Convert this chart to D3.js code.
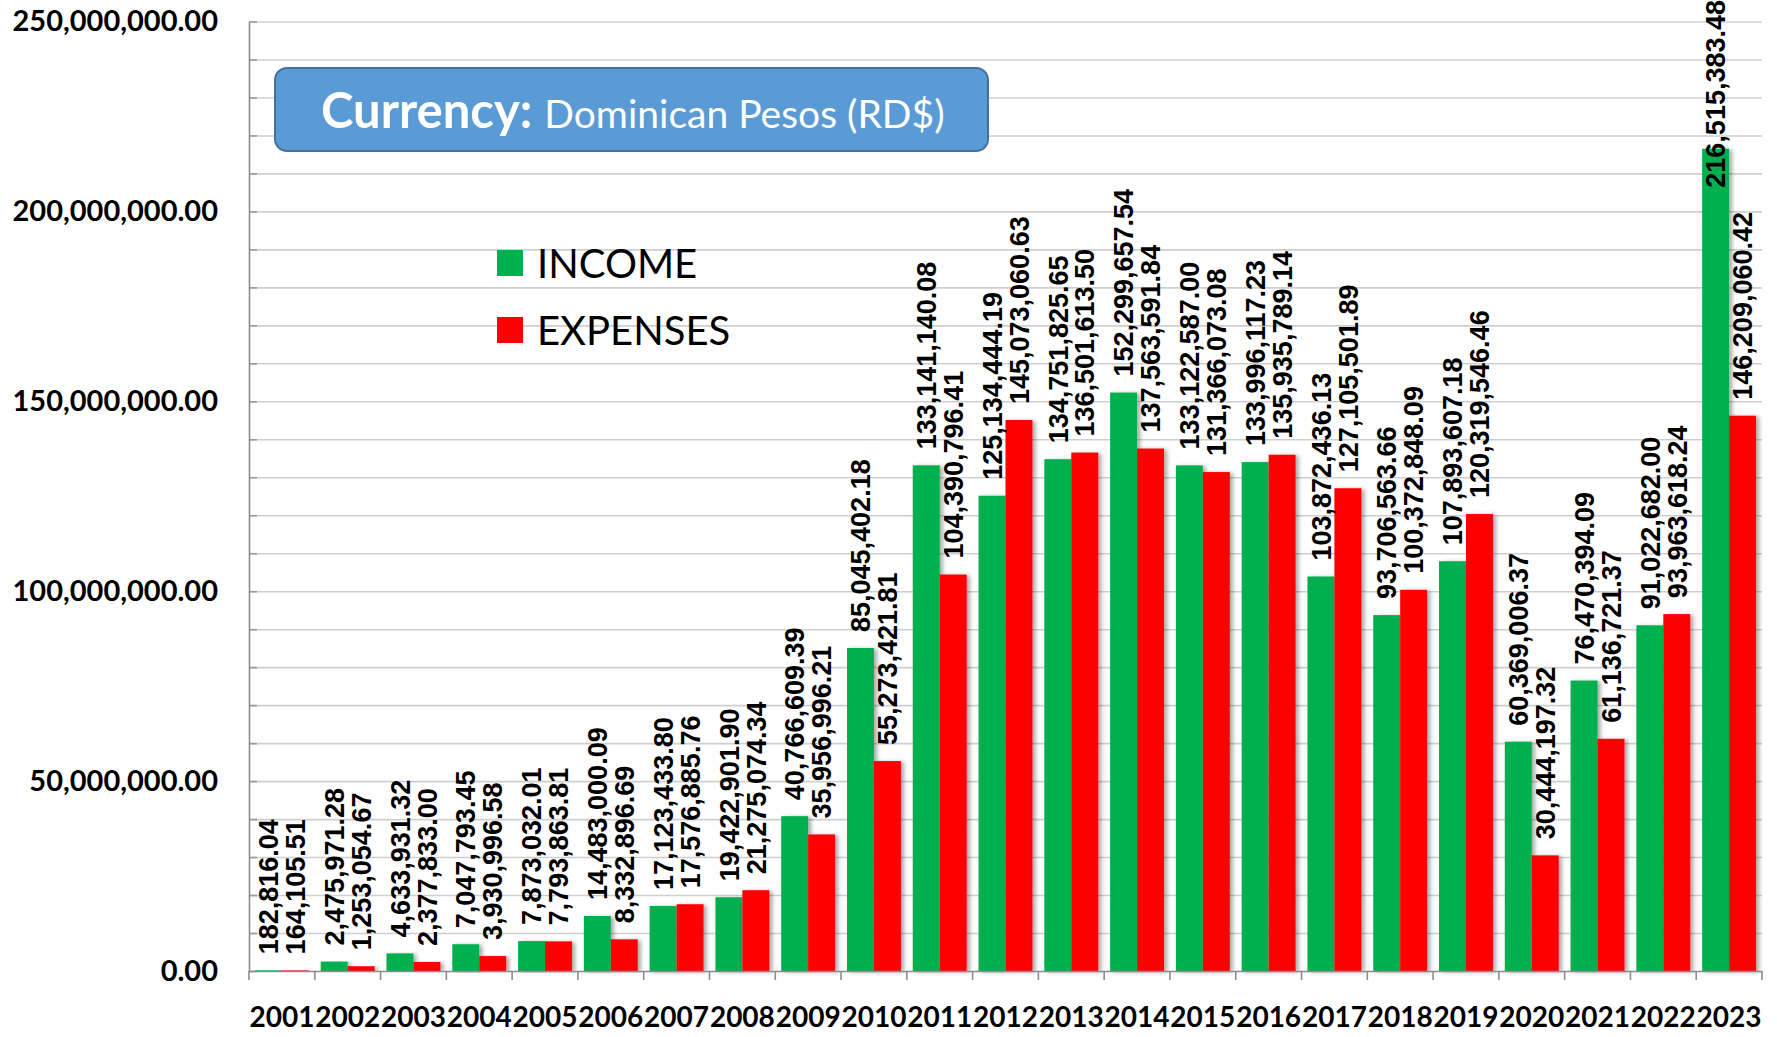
<!DOCTYPE html>
<html>
<head>
<meta charset="utf-8">
<script src="https://cdn.jsdelivr.net/npm/d3@7"></script>
<style>
  body { margin: 0; background: #fff; }
  svg { display: block; }
  .ylab text { font-family: Lato, sans-serif; font-weight: 700; font-size: 29px; fill: #000; }
  .xlab text { font-family: Lato, sans-serif; font-weight: 700; font-size: 28px; fill: #000; }
  .vlabel { font-family: "Liberation Sans", Arial, sans-serif; font-weight: 700; font-size: 27px; fill: #000; }
</style>
</head>
<body>
<div id="chart"></div>
<script>
// values (RD$)
const years = ['2001','2002','2003','2004','2005','2006','2007','2008','2009','2010','2011','2012',
               '2013','2014','2015','2016','2017','2018','2019','2020','2021','2022','2023'];
const income = [182816.04, 2475971.28, 4633931.32, 7047793.45, 7873032.01, 14483000.09, 17123433.80,
                19422901.90, 40766609.39, 85045402.18, 133141140.08, 125134444.19, 134751825.65,
                152299657.54, 133122587.00, 133996117.23, 103872436.13, 93706563.66, 107893607.18,
                60369006.37, 76470394.09, 91022682.00, 216515383.48];
const expenses = [164105.51, 1253054.67, 2377833.00, 3930996.58, 7793863.81, 8332896.69, 17576885.76,
                  21275074.34, 35956996.21, 55273421.81, 104390796.41, 145073060.63, 136501613.50,
                  137563591.84, 131366073.08, 135935789.14, 127105501.89, 100372848.09, 120319546.46,
                  30444197.32, 61136721.37, 93963618.24, 146209060.42];
const seriesNames = ['INCOME', 'EXPENSES'];
const seriesColors = ['#00B050', '#FF0000'];
const yMax = 250000000;
const gridStep = 10000000;
const labelStep = 50000000;

const width = 1777;
const height = 1037;
const margin = { top: 21.5, right: 15, bottom: 66, left: 249 };

const svg = d3.select('#chart').append('svg')
  .attr('width', width)
  .attr('height', height);

// soft shadow like the excel bars
const defs = svg.append('defs');
const f = defs.append('filter').attr('id', 'shadow')
  .attr('x', '-30%').attr('y', '-5%').attr('width', '160%').attr('height', '110%');
f.append('feDropShadow')
  .attr('dx', 3).attr('dy', 1).attr('stdDeviation', 2)
  .attr('flood-color', '#000').attr('flood-opacity', 0.35);

const x = d3.scaleBand()
  .domain(years)
  .range([margin.left, width - margin.right]);

const x1 = d3.scaleBand()
  .domain(seriesNames)
  .range([0, x.bandwidth()])
  .paddingOuter(0.22);

const y = d3.scaleLinear()
  .domain([0, yMax])
  .range([height - margin.bottom, margin.top]);

// gridlines
svg.append('g')
  .attr('transform', `translate(${margin.left},0)`)
  .call(d3.axisRight(y)
    .tickValues(d3.range(gridStep, yMax + 1, gridStep))
    .tickSize(width - margin.left - margin.right)
    .tickFormat(''))
  .call(g => g.select('.domain').remove())
  .call(g => g.selectAll('line').attr('stroke', '#CFCFCF').attr('stroke-width', 1.6));

// inner tick marks on the y axis
svg.append('g')
  .attr('transform', `translate(${margin.left},0)`)
  .call(d3.axisRight(y)
    .tickValues(d3.range(0, yMax + 1, gridStep))
    .tickSize(8)
    .tickFormat(''))
  .call(g => g.select('.domain').remove())
  .call(g => g.selectAll('line').attr('stroke', '#9A9A9A').attr('stroke-width', 1.6));

// y labels
svg.append('g')
  .attr('class', 'ylab')
  .attr('transform', `translate(${margin.left},0)`)
  .call(d3.axisLeft(y)
    .tickValues(d3.range(0, yMax + 1, labelStep))
    .tickSize(0)
    .tickPadding(31)
    .tickFormat(d3.format(',.2f')))
  .call(g => g.select('.domain').attr('stroke', '#8C8C8C').attr('stroke-width', 1.6));

// bars
const data = years.map((yr, i) => ({ year: yr, values: [income[i], expenses[i]] }));

const groups = svg.append('g')
  .selectAll('g')
  .data(data)
  .join('g')
  .attr('transform', d => `translate(${x(d.year)},0)`);

groups.selectAll('rect')
  .data(d => d.values.map((v, j) => ({ key: seriesNames[j], value: v, color: seriesColors[j] })))
  .join('rect')
  .attr('x', d => x1(d.key))
  .attr('width', x1.bandwidth())
  .attr('y', d => y(d.value))
  .attr('height', d => y(0) - y(d.value))
  .attr('fill', d => d.color)
  .attr('filter', 'url(#shadow)');

// x axis
svg.append('g')
  .attr('class', 'xlab')
  .attr('transform', `translate(0,${height - margin.bottom})`)
  .call(d3.axisBottom(x).tickSize(0).tickPadding(46))
  .call(g => g.select('.domain').attr('stroke', '#8C8C8C').attr('stroke-width', 1.6))
  .call(g => g.selectAll('text').attr('dy', '0.35em'));

// category separators below the axis
svg.append('g')
  .selectAll('line')
  .data(years.concat(['end']))
  .join('line')
  .attr('x1', (d, i) => i < years.length ? x(d) : x.range()[1])
  .attr('x2', (d, i) => i < years.length ? x(d) : x.range()[1])
  .attr('y1', y(0))
  .attr('y2', y(0) + 9)
  .attr('stroke', '#8C8C8C')
  .attr('stroke-width', 1.6);

// value labels, rotated
groups.selectAll('text.vlabel')
  .data(d => d.values.map((v, j) => ({ key: seriesNames[j], value: v })))
  .join('text')
  .attr('class', 'vlabel')
  .attr('dy', '0.36em')
  .text(d => d3.format(',.2f')(d.value))
  .attr('transform', function(d) {
    const len = this.getComputedTextLength();
    const start = Math.max(y(d.value) - 16, len);
    const cx = x1(d.key) + x1.bandwidth() / 2;
    return `translate(${cx},${start}) rotate(-90)`;
  });

// currency box
const box = svg.append('g');
box.append('rect')
  .attr('x', 275).attr('y', 68)
  .attr('width', 713).attr('height', 83)
  .attr('rx', 12)
  .attr('fill', '#5B9BD5')
  .attr('stroke', '#41719C')
  .attr('stroke-width', 2);
const boxText = box.append('text')
  .attr('x', 321).attr('y', 128)
  .attr('fill', '#fff')
  .style('font-family', 'Lato, sans-serif');
boxText.append('tspan')
  .style('font-weight', 700).style('font-size', '49px')
  .text('Currency: ');
boxText.append('tspan')
  .style('font-size', '39px')
  .text('Dominican Pesos (RD$)');

// legend
const legend = svg.append('g')
  .selectAll('g')
  .data(seriesNames)
  .join('g')
  .attr('transform', (d, i) => `translate(497,${250 + i * 67})`);
legend.append('rect')
  .attr('width', 26).attr('height', 26)
  .attr('fill', (d, i) => seriesColors[i]);
legend.append('text')
  .attr('x', 40).attr('y', 28)
  .style('font-family', 'Lato, sans-serif')
  .style('font-size', '40px')
  .text(d => d);
</script>
</body>
</html>
